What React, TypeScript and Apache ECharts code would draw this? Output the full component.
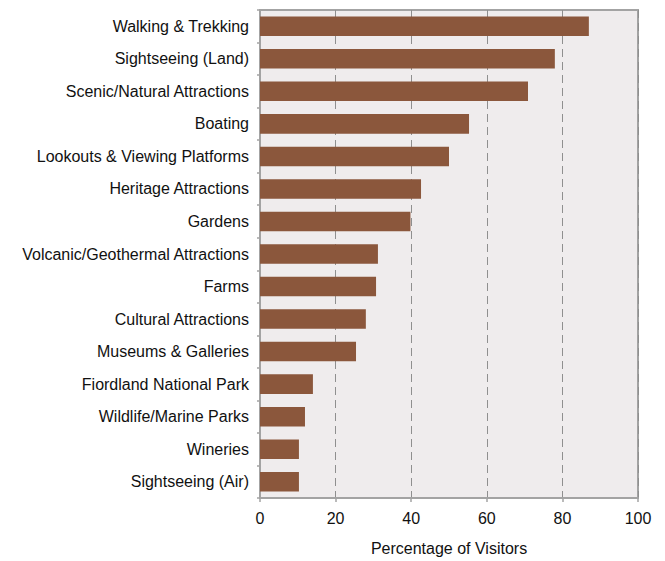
import React, { useEffect, useRef } from "react";
import * as echarts from "echarts";

const categories = [
  "Walking & Trekking",
  "Sightseeing (Land)",
  "Scenic/Natural Attractions",
  "Boating",
  "Lookouts & Viewing Platforms",
  "Heritage Attractions",
  "Gardens",
  "Volcanic/Geothermal Attractions",
  "Farms",
  "Cultural Attractions",
  "Museums & Galleries",
  "Fiordland National Park",
  "Wildlife/Marine Parks",
  "Wineries",
  "Sightseeing (Air)",
];
const values = [87.0, 78.0, 70.9, 55.3, 50.0, 42.6, 39.8, 31.2, 30.7, 28.0, 25.4, 14.0, 11.9, 10.3, 10.3];
const xTicks = [0, 20, 40, 60, 80, 100];
const xAxisName = "Percentage of Visitors";

const FONT = "Liberation Sans, Arial, sans-serif";

export default function App() {
  const ref = useRef<HTMLDivElement>(null);
  useEffect(() => {
    if (!ref.current) return;
    const chart = echarts.init(ref.current, undefined, { renderer: "svg" });
    chart.setOption({
      animation: false,
      backgroundColor: "#ffffff",
      grid: {
        left: 260,
        right: 27,
        top: 10,
        bottom: 60,
        show: true,
        backgroundColor: "#EFECED",
        borderColor: "#A3A3A3",
        borderWidth: 2,
      },
      xAxis: {
        type: "value",
        min: xTicks[0],
        max: xTicks[xTicks.length - 1],
        interval: 20,
        name: xAxisName,
        nameLocation: "middle",
        nameGap: 42,
        nameTextStyle: { fontFamily: FONT, fontSize: 16, color: "#111" },
        axisLine: { show: true, lineStyle: { color: "#A3A3A3", width: 2 } },
        axisTick: { show: true, length: 4, lineStyle: { color: "#A3A3A3", width: 1.5 } },
        axisLabel: { fontFamily: FONT, fontSize: 16, color: "#111", margin: 12 },
        splitLine: { show: true, lineStyle: { color: "#8F8F8F", type: [8, 5], width: 1 } },
      },
      yAxis: {
        type: "category",
        data: categories,
        inverse: true,
        axisLine: { show: true, lineStyle: { color: "#A3A3A3", width: 2 } },
        axisTick: { show: true, length: 3, lineStyle: { color: "#A3A3A3", width: 1.5 } },
        axisLabel: { fontFamily: FONT, fontSize: 16, color: "#111", margin: 11 },
        splitLine: { show: false },
      },
      series: [
        {
          type: "bar",
          data: values,
          barWidth: "60%",
          itemStyle: { color: "#8B573C" },
        },
      ],
    });
    return () => chart.dispose();
  }, []);
  return (
    <div
      ref={ref}
      style={{ position: "fixed", left: 0, top: 0, width: 665, height: 561 }}
    />
  );
}
